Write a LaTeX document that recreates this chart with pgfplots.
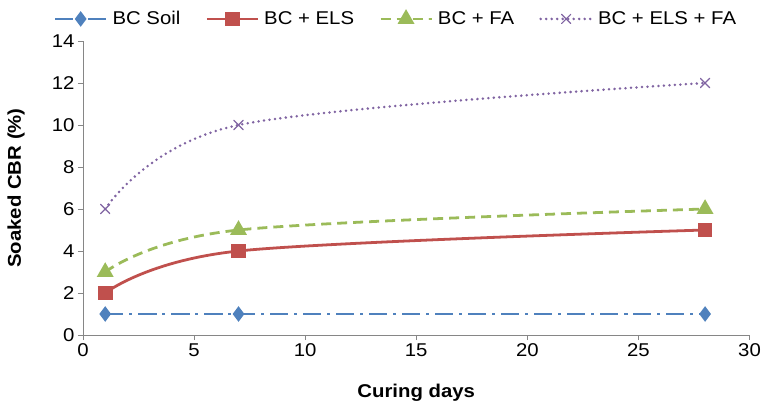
\documentclass[border=0pt]{standalone}
\usepackage{pgfplots}
\usepackage{fontspec}
\setmainfont{Liberation Sans}[FakeStretch=1.1]
\pgfplotsset{compat=1.18}
\definecolor{xblue}{HTML}{4F81BD}
\definecolor{xred}{HTML}{C0504D}
\definecolor{xgreen}{HTML}{9BBB59}
\definecolor{xpurple}{HTML}{8064A2}
\definecolor{axgray}{HTML}{868686}
\newcommand{\chartfont}{\fontsize{18.5bp}{21bp}\selectfont}
\begin{document}
\begin{tikzpicture}
\useasboundingbox (-83bp,-69bp) rectangle (679bp,335bp);
\begin{axis}[
  scale only axis,
  width=666.5bp, height=294bp,
  xmin=0, xmax=30, ymin=0, ymax=14,
  xtick={0,5,...,30}, ytick={0,2,...,14},
  axis x line*=bottom, axis y line*=left,
  axis line style={axgray, line width=1pt, -},
  tick style={axgray, line width=1pt},
  tick align=outside, major tick length=5bp,
  tick label style={font=\chartfont},
  /pgf/number format/assume math mode=true,
  xlabel={\bfseries Curing days},
  ylabel={\bfseries Soaked CBR (\%)},
  label style={font=\chartfont},
  xlabel style={at={(axis description cs:0.5,-0.197)}, anchor=center},
  ylabel style={at={(axis description cs:-0.1005,0.5)}, anchor=center},
  legend columns=4,
  legend style={draw=none, fill=none, at={(axis description cs:0.468,1.075)}, anchor=center,
    nodes={inner sep=0pt},
    /tikz/every odd column/.append style={column sep=5bp},
    /tikz/every even column/.append style={column sep=25bp}, font=\chartfont},
  legend cell align=left,
  /pgfplots/legend image code/.code={\draw[mark repeat=2,mark phase=2,#1] plot coordinates {(0bp,0bp) (25.5bp,0bp) (51bp,0bp)};},
  every axis plot/.append style={smooth, tension=0.55},
]
\addplot[xblue, line width=2.8pt, dash pattern=on 18bp off 6bp on 3bp off 6bp, mark=diamond*, mark size=5.5bp, mark options={solid, fill=xblue}]
  coordinates {(1,1) (7,1) (28,1)};
\addlegendentry{BC Soil}
\addplot[xred, line width=2.8pt, mark=square*, mark size=6bp, mark options={solid, fill=xred}]
  coordinates {(1,2) (7,4) (28,5)};
\addlegendentry{BC + ELS}
\addplot[xgreen, line width=2.8pt, dash pattern=on 10bp off 6bp, mark=triangle*, mark size=7bp, mark options={solid, fill=xgreen}]
  coordinates {(1,3) (7,5) (28,6)};
\addlegendentry{BC + FA}
\addplot[xpurple, line width=2.8pt, line cap=round, dash pattern=on 0bp off 5.5bp, mark=x, mark size=6.5bp, mark options={solid, line width=1.2pt}]
  coordinates {(1,6) (7,10) (28,12)};
\addlegendentry{BC + ELS + FA}
\end{axis}
\end{tikzpicture}
\end{document}
